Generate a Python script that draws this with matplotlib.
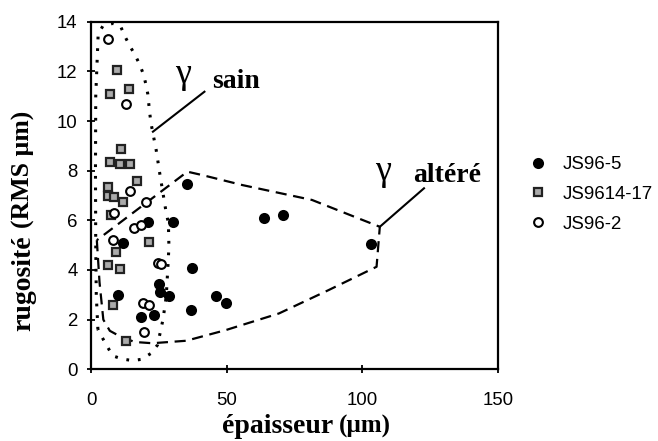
import matplotlib
matplotlib.use("Agg")
import matplotlib.pyplot as plt
from matplotlib.lines import Line2D

# ---- data -------------------------------------------------------------
js96_5_x = [35.2, 30.0, 20.9, 11.7, 37.1, 24.9, 25.4, 28.8, 23.2, 18.3, 9.8, 36.6, 45.8, 49.8, 63.7, 70.7, 103.0]
js96_5_y = [7.45, 5.95, 5.95, 5.10, 4.10, 3.42, 3.13, 2.95, 2.17, 2.12, 2.99, 2.37, 2.95, 2.67, 6.08, 6.21, 5.05]

js9614_x = [9.5, 14.0, 6.9, 11.0, 6.7, 10.7, 14.2, 16.8, 6.3, 6.3, 8.3, 11.6, 7.3, 21.4, 9.1, 6.1, 10.7, 7.9, 12.8]
js9614_y = [12.05, 11.28, 11.07, 8.87, 8.36, 8.25, 8.25, 7.60, 7.33, 6.98, 6.95, 6.75, 6.21, 5.14, 4.74, 4.20, 4.03, 2.59, 1.15]

js96_2_x = [6.1, 12.9, 14.3, 20.1, 8.5, 15.9, 18.3, 8.0, 24.4, 25.6, 18.9, 21.4, 19.5]
js96_2_y = [13.3, 10.7, 7.2, 6.73, 6.28, 5.7, 5.8, 5.2, 4.3, 4.25, 2.67, 2.6, 1.5]

series_labels = ["JS96-5", "JS9614-17", "JS96-2"]

# envelope outlines (hand-drawn zones)
sain_x = [2.4, 1.8, 1.6, 1.5, 1.6, 2.5, 4.3, 7.9, 10.7, 12.4, 14.3, 16.1, 17.8, 19.2, 20.1, 20.8, 21.5,
          22.0, 22.7, 23.9, 25.2, 26.4, 27.6, 28.4, 28.6, 28.2, 27.6, 26.4, 24.4, 22.0, 18.3, 15.3, 11.6,
          7.9, 5.5, 2.4]
sain_y = [1.6, 3.0, 5.0, 8.0, 11.0, 13.5, 13.84, 13.93, 13.83, 13.4, 13.0, 12.66, 12.28, 11.88, 11.48,
          11.09, 10.33, 9.91, 9.5, 8.83, 7.9, 7.1, 6.3, 5.9, 4.94, 4.08, 2.92, 2.0, 0.98, 0.64, 0.40,
          0.35, 0.41, 0.54, 0.98, 1.6]

alt_x = [2.0, 3.0, 4.4, 6.8, 11.0, 16.0, 22.5, 35.0, 49.6, 69.2, 87.5, 105.2, 106.4,
         98.5, 81.4, 55.7, 41.0, 35.4, 2.0]
alt_y = [5.2, 3.5, 2.0, 1.55, 1.3, 1.1, 1.05, 1.15, 1.58, 2.25, 3.19, 4.13, 5.74,
         6.08, 6.82, 7.42, 7.82, 7.96, 5.2]

sain_leader_x = [22.7, 41.7]
sain_leader_y = [9.57, 11.18]
alt_leader_x = [106.4, 122.7]
alt_leader_y = [5.74, 7.29]

x_ticks = [0, 50, 100, 150]
y_ticks = [0, 2, 4, 6, 8, 10, 12, 14]

# ---- figure -----------------------------------------------------------
W, H = 658, 441
fig = plt.figure(figsize=(W / 100, H / 100), dpi=100)
ax = fig.add_axes([91.4 / W, 1 - 369.3 / H, (498 - 91.4) / W, (369.3 - 21.7) / H])

sans = "Liberation Sans"
serif = "Liberation Serif"

ax.plot(sain_x, sain_y, color="black", lw=2.2, linestyle=(0, (0.9, 2.9)),
        dash_capstyle="butt")
ax.plot(alt_x, alt_y, color="black", lw=1.6, linestyle=(0, (5, 3)))
ax.plot(sain_leader_x, sain_leader_y, color="black", lw=1.5)
ax.plot(alt_leader_x, alt_leader_y, color="black", lw=1.5)

ax.plot(js96_5_x, js96_5_y, "o", ms=8.0, mfc="black", mec="black", mew=0, zorder=5)
ax.plot(js9614_x, js9614_y, "s", ms=6.3, mfc="#ababab", mec="#222222", mew=1.6, zorder=4)
ax.plot(js96_2_x, js96_2_y, "o", ms=6.3, mfc="white", mec="black", mew=1.5, zorder=6)

ax.set_xlim(0, 150)
ax.set_ylim(0, 14)
ax.set_xticks(x_ticks)
ax.set_yticks(y_ticks)
ax.tick_params(direction="inout", length=6, width=1.3, labelsize=13.4, colors="black")
ax.tick_params(axis="x", pad=13.5)
ax.tick_params(axis="y", pad=7)
for lab in ax.get_xticklabels() + ax.get_yticklabels():
    lab.set_fontfamily(sans)
for sp in ax.spines.values():
    sp.set_linewidth(1.6)

# zone annotations
ax.text(30.7, 11.55, "γ", family=serif, fontsize=26, ha="left", va="baseline")
ax.text(44.7, 11.33, "sain", family=serif, fontsize=20, fontweight="bold", ha="left", va="baseline")
ax.text(104.7, 7.62, "γ", family=serif, fontsize=26, ha="left", va="baseline")
ax.text(118.6, 7.54, "altéré", family=serif, fontsize=20, fontweight="bold", ha="left", va="baseline")

# axis labels
fig.text(222 / W, 1 - 433 / H, "épaisseur", family=serif, fontsize=20, fontweight="bold",
         ha="left", va="baseline")
fig.text(339 / W, 1 - 433 / H, "(µm)", family=serif, fontsize=18, fontweight="bold",
         ha="left", va="baseline")
fig.text(30 / W, 1 - 331 / H, "rugosité", family=serif, fontsize=20, fontweight="bold",
         rotation=90, rotation_mode="anchor", ha="left", va="baseline")
fig.text(30 / W, 1 - 228 / H, "(RMS µm)", family=serif, fontsize=18.5, fontweight="bold",
         rotation=90, rotation_mode="anchor", ha="left", va="baseline")

# legend
handles = [
    Line2D([], [], ls="none", marker="o", ms=8.0, mfc="black", mec="black", mew=0),
    Line2D([], [], ls="none", marker="s", ms=6.3, mfc="#ababab", mec="#222222", mew=1.6),
    Line2D([], [], ls="none", marker="o", ms=6.3, mfc="white", mec="black", mew=1.5),
]
fig.legend(handles, series_labels, loc="upper left", bbox_to_anchor=(528.6 / W, 1 - 156 / H),
           bbox_transform=fig.transFigure, frameon=False, borderpad=0, borderaxespad=0,
           handlelength=1.0, handletextpad=0.83, labelspacing=0.69,
           prop={"family": sans, "size": 13.4})

fig.savefig("out.png", dpi=100)
